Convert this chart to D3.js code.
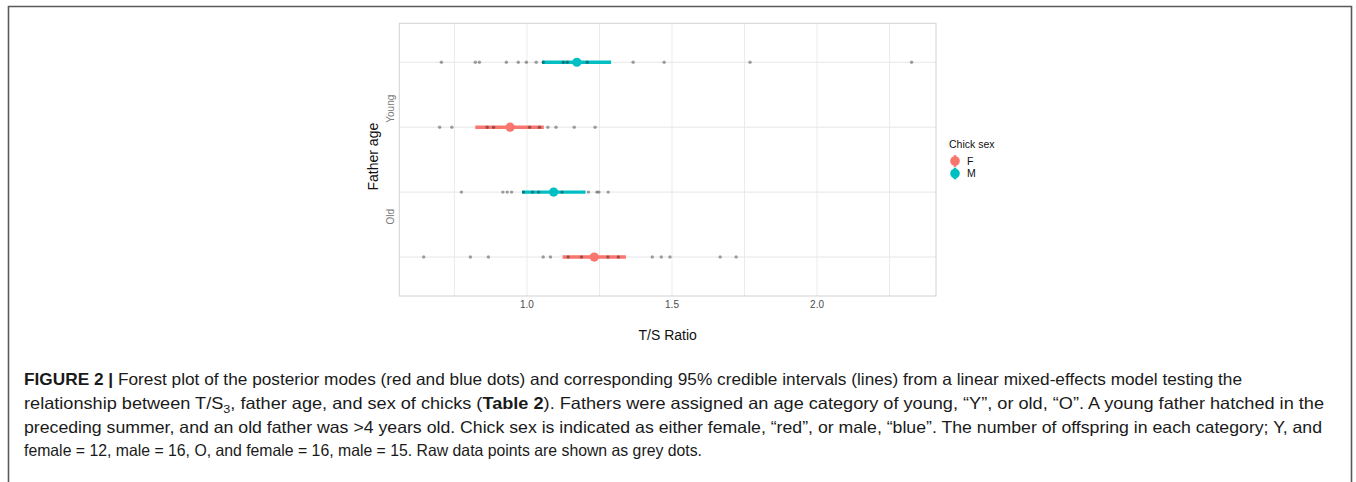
<!DOCTYPE html>
<html>
<head>
<meta charset="utf-8">
<script src="https://cdn.jsdelivr.net/npm/d3@7"></script>
<style>
  body { margin: 0; background: #fff; }
  svg { display: block; }
</style>
</head>
<body>
<svg id="fig" width="1356" height="482"></svg>
<script>
// rows of the forest plot, top to bottom
var rows = ["Young.M", "Young.F", "Old.M", "Old.F"];
var rowAge = ["Young", "Young", "Old", "Old"];
var rowSex = ["M", "F", "M", "F"];

// posterior modes and 95% credible intervals (T/S ratio)
var modes = [1.172, 0.942, 1.092, 1.232];
var lower = [1.052, 0.822, 0.983, 1.123];
var upper = [1.290, 1.058, 1.202, 1.341];

// raw data points per row
var rawYoungM = [0.705, 0.822, 0.836, 0.929, 0.970, 0.998, 1.032, 1.056, 1.125, 1.139,
                 1.170, 1.208, 1.366, 1.473, 1.769, 2.326];
var rawYoungF = [0.699, 0.741, 0.863, 0.885, 0.935, 0.950, 1.009, 1.043, 1.072, 1.100,
                 1.163, 1.235];
var rawOldM = [0.774, 0.917, 0.932, 0.947, 0.988, 1.019, 1.040, 1.085, 1.095, 1.100,
               1.121, 1.212, 1.241, 1.248, 1.280];
var rawOldF = [0.644, 0.805, 0.867, 1.056, 1.081, 1.142, 1.188, 1.225, 1.240, 1.279,
               1.315, 1.432, 1.463, 1.493, 1.666, 1.721];
var rawByRow = [rawYoungM, rawYoungF, rawOldM, rawOldF];

var xTicks = [1.0, 1.5, 2.0];
var xMinor = [0.75, 1.25, 1.75, 2.25];
var sexLevels = ["F", "M"];
var sexColours = ["#F8766D", "#00BFC4"];

var svg = d3.select("#fig");
var font = "'Liberation Sans', Arial, Helvetica, sans-serif";

// figure frame (left, top, right)
svg.append("path")
  .attr("d", "M8.5,482 V6.5 H1351.5 V482")
  .attr("fill", "none").attr("stroke", "#5a5a5a").attr("stroke-width", 1.6);

var panel = { left: 399.3, right: 936, top: 23.3, bottom: 296 };

var allRaw = d3.merge(rawByRow);
var ext = d3.extent(allRaw);
var pad = (ext[1] - ext[0]) * 0.05;
var x = d3.scaleLinear().domain([ext[0] - pad, ext[1] + pad])
  .range([panel.left, panel.right]);
var y = d3.scalePoint().domain(rows).range([panel.top, panel.bottom]).padding(0.6);
var colour = d3.scaleOrdinal().domain(sexLevels).range(sexColours);

var plot = svg.append("g");

// grid
plot.selectAll("line.vgrid").data(xMinor.concat(xTicks)).enter().append("line")
  .attr("x1", d => x(d)).attr("x2", d => x(d))
  .attr("y1", panel.top).attr("y2", panel.bottom)
  .attr("stroke", "#ebebeb").attr("stroke-width", 1);
plot.selectAll("line.hgrid").data(rows).enter().append("line")
  .attr("x1", panel.left).attr("x2", panel.right)
  .attr("y1", d => y(d)).attr("y2", d => y(d))
  .attr("stroke", "#e6e6e6").attr("stroke-width", 1);

plot.append("rect")
  .attr("x", panel.left).attr("y", panel.top)
  .attr("width", panel.right - panel.left).attr("height", panel.bottom - panel.top)
  .attr("fill", "none").attr("stroke", "#d2d2d2").attr("stroke-width", 1);

// intervals
plot.selectAll("line.ci").data(rows).enter().append("line")
  .attr("x1", (d, i) => x(lower[i])).attr("x2", (d, i) => x(upper[i]))
  .attr("y1", d => y(d)).attr("y2", d => y(d))
  .attr("stroke", (d, i) => colour(rowSex[i])).attr("stroke-width", 3.4);

// raw points
rows.forEach(function(r, i) {
  plot.append("g").selectAll("circle").data(rawByRow[i]).enter().append("circle")
    .attr("cx", d => x(d)).attr("cy", y(r)).attr("r", 1.7)
    .attr("fill", "#000").attr("fill-opacity", 0.36);
});

// modes
plot.selectAll("circle.mode").data(rows).enter().append("circle")
  .attr("cx", (d, i) => x(modes[i])).attr("cy", d => y(d)).attr("r", 4.6)
  .attr("fill", (d, i) => colour(rowSex[i]));

// x axis labels
plot.selectAll("text.xt").data(xTicks).enter().append("text")
  .attr("x", d => x(d)).attr("y", 307.5)
  .attr("text-anchor", "middle").attr("font-family", font).attr("font-size", 10)
  .attr("fill", "#4d4d4d").text(d3.format(".1f"));
plot.append("text")
  .attr("x", (panel.left + panel.right) / 2).attr("y", 340)
  .attr("text-anchor", "middle").attr("font-family", font).attr("font-size", 14)
  .attr("fill", "#111").text("T/S Ratio");

// y axis labels
var youngTop = (y("Young.M") + y("Young.F")) / 2;
var oldMid = (y("Old.M") + y("Old.F")) / 2;
plot.append("text")
  .attr("transform", "translate(394," + youngTop + ") rotate(-90)")
  .attr("text-anchor", "end").attr("font-family", font).attr("font-size", 10)
  .attr("fill", "#7a7a7a").text("Young");
plot.append("text")
  .attr("transform", "translate(394," + oldMid + ") rotate(-90)")
  .attr("text-anchor", "start").attr("font-family", font).attr("font-size", 10)
  .attr("fill", "#7a7a7a").text("Old");
plot.append("text")
  .attr("transform", "translate(378," + ((panel.top + panel.bottom) / 2 - 3) + ") rotate(-90)")
  .attr("text-anchor", "middle").attr("font-family", font).attr("font-size", 14)
  .attr("fill", "#111").text("Father age");

// legend
var leg = svg.append("g").attr("transform", "translate(949,0)");
leg.append("text").attr("x", 0).attr("y", 148)
  .attr("font-family", font).attr("font-size", 10.5).attr("fill", "#111").text("Chick sex");
var keys = leg.selectAll("g.key").data(sexLevels).enter().append("g")
  .attr("transform", (d, i) => "translate(6," + (161 + i * 12.5) + ")");
keys.append("line").attr("x1", 0).attr("x2", 0).attr("y1", -5.8).attr("y2", 5.8)
  .attr("stroke", d => colour(d)).attr("stroke-width", 2.6);
keys.append("circle").attr("r", 4.8).attr("fill", d => colour(d));
keys.append("text").attr("x", 12).attr("y", 3.8)
  .attr("font-family", font).attr("font-size", 10.5).attr("fill", "#111").text(d => d);

// caption
var capFont = "'Liberation Sans Narrow', 'Liberation Sans', Arial, sans-serif";
var capLines = [
  { y: 385, w: 1218, parts: [["FIGURE 2 |", "b"], [" Forest plot of the posterior modes (red and blue dots) and corresponding 95% credible intervals (lines) from a linear mixed-effects model testing the", "n"]] },
  { y: 409, w: 1300, parts: [["relationship between T/S", "n"], ["3", "sub"], [", father age, and sex of chicks (", "n"], ["Table 2", "b"], ["). Fathers were assigned an age category of young, \u201cY\u201d, or old, \u201cO\u201d. A young father hatched in the", "n"]] },
  { y: 432.5, w: 1298, parts: [["preceding summer, and an old father was >4 years old. Chick sex is indicated as either female, \u201cred\u201d, or male, \u201cblue\u201d. The number of offspring in each category; Y, and", "n"]] },
  { y: 456, w: 678, parts: [["female = 12, male = 16, O, and female = 16, male = 15. Raw data points are shown as grey dots.", "n"]] }
];
var cap = svg.append("g");
capLines.forEach(function(l) {
  var t = cap.append("text").attr("x", 24).attr("y", l.y)
    .attr("font-family", capFont).attr("font-size", 16.5).attr("fill", "#1a1a1a")
    .attr("textLength", l.w).attr("lengthAdjust", "spacingAndGlyphs");
  l.parts.forEach(function(p) {
    var s = t.append("tspan").text(p[0]);
    if (p[1] === "b") s.attr("font-weight", "bold");
    if (p[1] === "sub") s.attr("font-size", 11.5).attr("dy", 4);
    if (p[1] === "n" && p[0].charAt(0) === ",") s.attr("dy", -4);
  });
});
</script>
</body>
</html>
